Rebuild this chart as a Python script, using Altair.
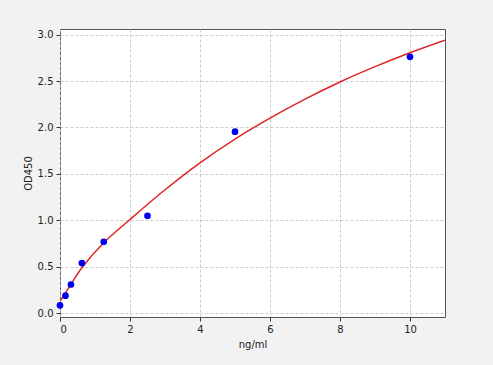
import altair as alt
import pandas as pd

# measured points
conc = [0, 0.156, 0.3125, 0.625, 1.25, 2.5, 5, 10]
od = [0.086, 0.19, 0.31, 0.54, 0.77, 1.05, 1.955, 2.76]

# fitted curve
curve_x = [0, 0.156, 0.3125, 0.625, 1.25, 2, 3, 4, 5, 6, 7, 8, 9, 10, 11]
curve_y = [0.13, 0.22, 0.31, 0.49, 0.76, 1.01, 1.33, 1.62, 1.875, 2.10, 2.305, 2.49, 2.655, 2.805, 2.94]

pts = pd.DataFrame({"x": conc, "y": od})
crv = pd.DataFrame({"x": curve_x, "y": curve_y})

FONT = "DejaVu Sans"

xs = alt.Scale(domain=[0, 11], nice=False, zero=False)
ys = alt.Scale(domain=[-0.04, 3.06], nice=False, zero=False)

common = dict(grid=True, gridDash=[3, 2], gridColor="#c0c0c0", gridWidth=0.8,
              tickSize=4, tickColor="#333", domain=False,
              labelFont=FONT, titleFont=FONT,
              labelFontSize=10, titleFontSize=10, titleFontWeight="normal",
              labelColor="#222", titleColor="#222")

xax = alt.Axis(title="ng/ml", values=[0, 2, 4, 6, 8, 10], format="d",
               titlePadding=5, labelPadding=3, **common)
yax = alt.Axis(title="OD450", values=[0, 0.5, 1, 1.5, 2, 2.5, 3], format=".1f",
               titlePadding=4, labelPadding=3, **common)

line = alt.Chart(crv).mark_line(color="#e02424", strokeWidth=1.5, interpolate="catmull-rom", clip=True).encode(
    x=alt.X("x:Q", scale=xs, axis=xax),
    y=alt.Y("y:Q", scale=ys, axis=yax),
)
dots = alt.Chart(pts).mark_circle(color="#0000ee", size=45, opacity=1).encode(
    x=alt.X("x:Q", scale=xs),
    y=alt.Y("y:Q", scale=ys),
)

chart = (line + dots).properties(
    width=385, height=288,
    autosize=alt.AutoSizeParams(type="none"),
    padding={"left": 60, "top": 29, "right": 48, "bottom": 48},
    background="#f2f2f2",
).configure_view(
    fill="white", stroke="#555", strokeWidth=1
)

chart.save("out.html", embed_options={"renderer": "svg", "actions": False})
